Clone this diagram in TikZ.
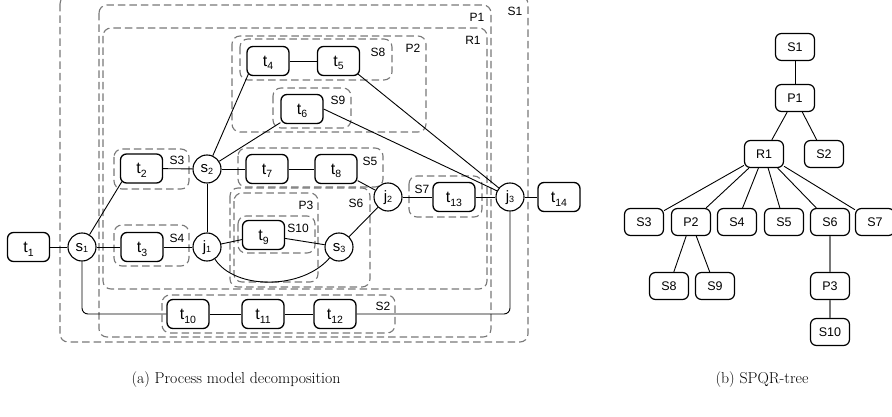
\documentclass[tikz,border=0pt]{standalone}
\usepackage{fontspec}
\newfontfamily\arialf{Liberation Sans}
\usetikzlibrary{calc}
\definecolor{dashgray}{RGB}{120,120,120}
\newcommand\tsub[1]{\raisebox{-3.5pt}{\fontsize{10.5}{10.5}\selectfont#1}}
\newcommand\gsub[1]{\raisebox{-1.5pt}{\fontsize{9}{9}\selectfont#1}}
\begin{document}
\begin{tikzpicture}[x=1pt,y=-1pt,
  task/.style={draw,fill=white,line width=1.3pt,rounded corners=6pt,minimum width=42pt,minimum height=29pt,inner sep=0pt,font=\arialf\fontsize{16}{16}\selectfont,text height=11pt,text depth=0pt},
  gw/.style={draw,fill=white,circle,line width=1.1pt,minimum size=28pt,inner sep=0pt,font=\arialf\fontsize{15}{15}\selectfont,text height=8pt,text depth=0pt},
  region/.style={draw=dashgray,dash pattern=on 7.5pt off 4pt,line width=1.1pt,rounded corners=8pt},
  rlabel/.style={font=\arialf\fontsize{12}{12}\selectfont,inner sep=0pt},
  tnode/.style={draw,fill=white,line width=1.2pt,rounded corners=6pt,minimum width=39pt,minimum height=27pt,inner sep=0pt,font=\arialf\fontsize{12.5}{12.5}\selectfont},
  edge/.style={line width=0.9pt},
  grayedge/.style={line width=1.4pt,draw=dashgray},
  capt/.style={font=\fontsize{15.8}{18}\selectfont,inner sep=0pt}
]
\useasboundingbox (0,0) rectangle (892,417);

% ---------- regions ----------
\draw[region] (60,-4) rectangle (528,342);
\draw[region] (99,5) rectangle (491,337);
\draw[region] (103,28) rectangle (487,289);
\draw[region] (232,36) rectangle (426,132);
\draw[region] (240,39) rectangle (392,80);
\draw[region] (273,88) rectangle (351,128);
\draw[region] (114,149) rectangle (189,189);
\draw[region] (114,225) rectangle (189,266);
\draw[region] (238,148) rectangle (383,187);
\draw[region] (230,188) rectangle (370,287);
\draw[region] (234,193) rectangle (318,282);
\draw[region] (238,216) rectangle (315,253);
\draw[region] (409,176) rectangle (482,217);
\draw[region] (162,295) rectangle (395,333);

\node[rlabel] (lS1) at (515,11) {S1};
\node[rlabel] (lP1) at (477,17) {P1};
\node[rlabel] (lR1) at (473,40) {R1};
\node[rlabel] (lP2) at (413,48) {P2};
\node[rlabel] (lS8) at (378,52) {S8};
\node[rlabel] (lS9) at (338,100) {S9};
\node[rlabel] (lS3) at (177,160) {S3};
\node[rlabel] (lS4) at (177,238) {S4};
\node[rlabel] (lS5) at (370,161) {S5};
\node[rlabel] (lS6) at (356,203) {S6};
\node[rlabel] (lP3) at (306,205) {P3};
\node[rlabel] (lS10) at (298,228) {S10};
\node[rlabel] (lS7) at (422,189) {S7};
\node[rlabel] (lS2) at (383,306) {S2};

% ---------- edges (drawn before nodes) ----------
\coordinate (c1) at (235,290);
\coordinate (c2) at (302,290);

% ---------- nodes ----------
\node[task] (t1) at (28.5,247) {t\tsub{1}};
\node[gw] (s1) at (82,247) {s\gsub{1}};
\node[task] (t2) at (141.5,168.5) {t\tsub{2}};
\node[task] (t3) at (142,247) {t\tsub{3}};
\node[gw] (s2) at (207,169) {s\gsub{2}};
\node[gw] (j1) at (207,247) {j\gsub{1}};
\node[task] (t4) at (268,61) {t\tsub{4}};
\node[task] (t5) at (338.5,61) {t\tsub{5}};
\node[task] (t6) at (302,109) {t\tsub{6}};
\node[task] (t7) at (267,169) {t\tsub{7}};
\node[task] (t8) at (336,169) {t\tsub{8}};
\node[task] (t9) at (263.5,235) {t\tsub{9}};
\node[gw] (s3) at (339,247) {s\gsub{3}};
\node[gw] (j2) at (388,197) {j\gsub{2}};
\node[task] (t13) at (454,197) {t\tsub{13}};
\node[gw] (j3) at (510,197) {j\gsub{3}};
\node[task] (t14) at (559,197) {t\tsub{14}};
\node[task] (t10) at (188,314) {t\tsub{10}};
\node[task] (t11) at (263,314) {t\tsub{11}};
\node[task] (t12) at (335,314) {t\tsub{12}};

\begin{scope}[on background layer/.try]
\end{scope}

\draw[edge] (t1) -- (s1);
\draw[edge] (s1) -- ($(t2.south west)+(2,-2)$);
\draw[edge] (s1) -- (t3);
\draw[edge,rounded corners=6pt] (s1) |- (t10);
\draw[edge] (t10) -- (t11);
\draw[edge] (t11) -- (t12);
\draw[edge,rounded corners=6pt] (t12) -| (j3);
\draw[edge] (t2) -- (s2);
\draw[edge] (s2) -- ($(t4.south west)+(2,-2)$);
\draw[edge] (s2) -- (t6);
\draw[edge] (s2) -- (t7);
\draw[edge] (t7) -- (t8);
\draw[edge] (t8) -- (j2);
\draw[edge] (s2) -- (j1);
\draw[edge] (t4) -- (t5);
\draw[edge] ($(t5.south east)+(-2,-2)$) -- (j3);
\draw[edge] (t6.east) -- (j3);
\draw[edge] (t3) -- (j1);
\draw[edge] (j1) -- (t9);
\draw[edge] (t9) -- (s3);
\draw[edge] (j1) .. controls (c1) and (c2) .. (s3);
\draw[edge] (s3) -- (j2);
\draw[edge] (j2) -- (t13);
\draw[edge] (t13) -- (j3);
\draw[edge] (j3) -- (t14);

% ---------- SPQR tree ----------
\node[tnode] (tS1) at (795,47) {S1};
\node[tnode] (tP1) at (795,98) {P1};
\node[tnode] (tR1) at (764,154) {R1};
\node[tnode] (tS2) at (824,154) {S2};
\node[tnode] (tS3) at (644,222) {S3};
\node[tnode] (tP2) at (691,222) {P2};
\node[tnode] (tS4) at (737,222) {S4};
\node[tnode] (tS5) at (784,222) {S5};
\node[tnode] (tS6) at (830,222) {S6};
\node[tnode] (tS7) at (875,222) {S7};
\node[tnode] (tS8) at (669,286) {S8};
\node[tnode] (tS9) at (715,286) {S9};
\node[tnode] (tP3) at (830,286) {P3};
\node[tnode] (tS10) at (830,332) {S10};

\draw[edge] (tS1) -- (tP1);
\draw[edge] (tP1) -- (tR1);
\draw[edge] (tP1) -- (tS2);
\foreach \c in {tS3,tP2,tS4,tS5,tS6,tS7} \draw[edge] (tR1) -- (\c);
\draw[edge] (tP2) -- (tS8);
\draw[edge] (tP2) -- (tS9);
\draw[grayedge] (tS6) -- (tP3);
\draw[grayedge] (tP3) -- (tS10);

% ---------- captions ----------
\node[capt] (capa) at (236,380) {(a) Process model decomposition};
\node[capt] (capb) at (762,380) {(b) SPQR-tree};
\end{tikzpicture}
\end{document}
